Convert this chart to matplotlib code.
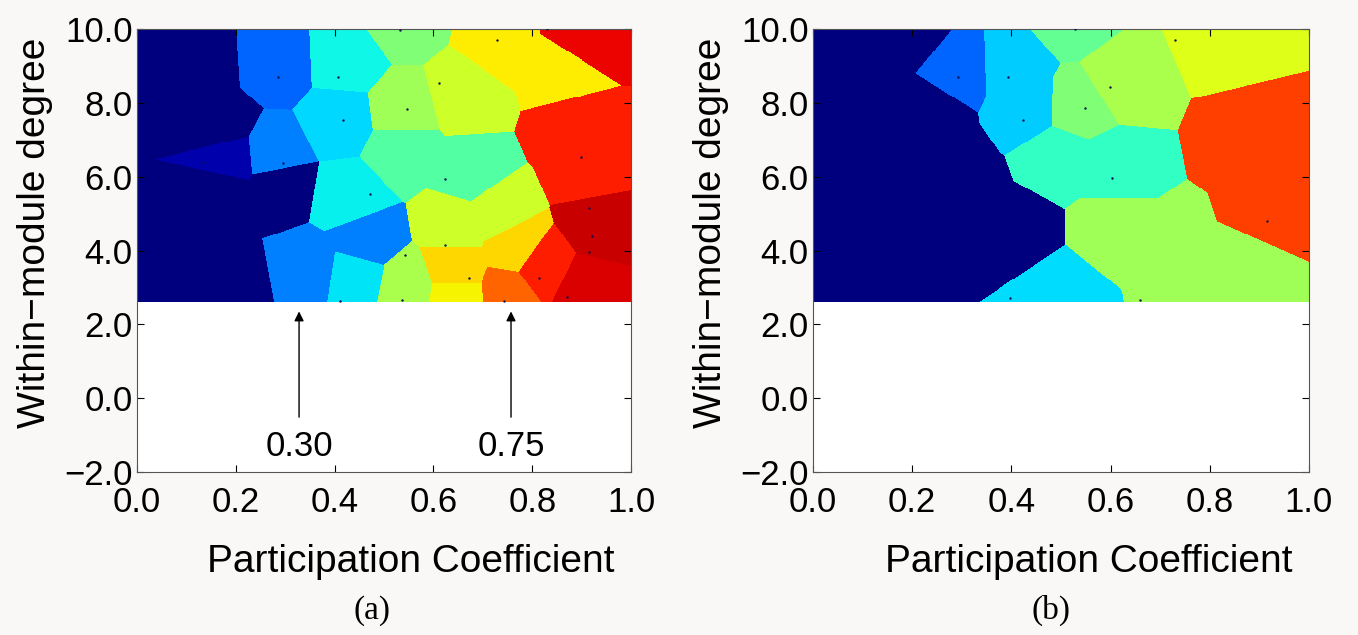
import numpy as np
import matplotlib
matplotlib.use("Agg")
import matplotlib.pyplot as plt

plt.rcParams['font.family'] = ['Liberation Sans', 'DejaVu Sans']

# (a) region seeds: participation coefficient, within-module degree, colour value
a_sx = [0.128, 0.168, 0.170, 0.285, 0.140, 0.188,
        0.184, 0.281, 0.273, 0.421, 0.536, 0.411, 0.664, 0.735, 0.856, 0.897,
        0.532, 0.532, 0.674, 0.887, 0.917, 0.431, 0.462, 0.345, 0.644, 0.725,
        0.937, 0.765, 0.644, 0.441, 0.543, 0.644, 0.751, 0.816, 0.907]
a_sy = [8.90, 7.35, 5.60, 5.75, 4.20, 3.06,
        6.48, 9.04, 6.59, 9.12, 10.26, 7.54, 8.22, 9.58, 8.90, 9.77,
        7.76, 6.73, 6.05, 7.27, 6.18, 5.42, 4.28, 3.45, 4.69, 5.04,
        4.69, 4.01, 3.46, 3.25, 2.98, 2.73, 2.87, 3.52, 2.92]
a_sv = [0.0, 0.0, 0.0, 0.0, 0.0, 0.0,
        0.042, 0.225, 0.25, 0.37, 0.505, 0.3375, 0.598, 0.66, 0.66, 0.905,
        0.545, 0.45, 0.45, 0.876, 0.876, 0.36, 0.25, 0.25, 0.598, 0.598,
        0.934, 0.683, 0.683, 0.35, 0.557, 0.65, 0.802, 0.876, 0.919]

# (a) node dots
a_dx = [0.285, 0.407, 0.532, 0.611, 0.729, 0.830, 0.547, 0.623, 0.899, 0.915,
        0.417, 0.296, 0.134, 0.472, 0.269, 0.411, 0.536, 0.543, 0.623, 0.672,
        0.814, 0.743, 0.870, 0.921, 0.915]
a_dy = [8.71, 8.71, 9.98, 8.55, 9.71, 9.99, 7.84, 5.94, 6.54, 5.15,
        7.54, 6.37, 6.40, 5.53, 2.65, 2.62, 2.65, 3.87, 4.14, 3.25,
        3.25, 2.62, 2.73, 4.39, 3.95]

# (b) region seeds
b_sx = [0.196, 0.236, 0.266, 0.306, 0.417, 0.175,
        0.286, 0.407, 0.427, 0.522, 0.538, 0.615, 0.841, 0.599, 0.498,
        0.891, 0.931, 0.720, 0.891, 0.599, 0.498]
b_sy = [9.85, 7.79, 6.45, 5.50, 4.50, 3.46,
        8.85, 8.90, 7.95, 10.26, 7.92, 8.57, 9.85, 6.24, 6.45,
        7.00, 4.82, 3.87, 3.60, 4.55, 2.87]
b_sv = [0.0, 0.0, 0.0, 0.0, 0.0, 0.0,
        0.225, 0.325, 0.325, 0.47, 0.505, 0.557, 0.62, 0.412, 0.412,
        0.843, 0.843, 0.545, 0.545, 0.545, 0.342]

# (b) node dots
b_dx = [0.292, 0.393, 0.423, 0.528, 0.730, 0.599, 0.548, 0.603, 0.915, 0.659,
        0.397]
b_dy = [8.71, 8.71, 7.54, 9.99, 9.71, 8.44, 7.87, 5.96, 4.80, 2.65,
        2.70]

xticks = [0.0, 0.2, 0.4, 0.6, 0.8, 1.0]
yticks = [-2.0, 0.0, 2.0, 4.0, 6.0, 8.0, 10.0]
ymin_img = 2.6

fig = plt.figure(figsize=(13.58, 6.35), dpi=100, facecolor='#faf8f7')
ax1 = fig.add_axes([0.1009, 0.2567, 0.3638, 0.6976])
ax2 = fig.add_axes([0.5987, 0.2567, 0.3652, 0.6976])


def draw_map(ax, sx, sy, sv, dx, dy):
    sx = np.array(sx); sy = np.array(sy); sv = np.array(sv)
    gx = np.linspace(0, 1, 500)
    gy = np.linspace(ymin_img, 10, 280)
    X, Y = np.meshgrid(gx, gy)
    # nearest seed, measured in screen units (x spans ~494 px, one y unit ~36.8 px)
    d = ((X[..., None] - sx) * 494) ** 2 + ((Y[..., None] - sy) * 36.8) ** 2
    Z = sv[np.argmin(d, axis=2)]
    ax.imshow(Z, origin='lower', extent=[0, 1, ymin_img, 10], aspect='auto',
              cmap='jet', vmin=0, vmax=1, interpolation='nearest')
    ax.scatter(dx, dy, s=3, color='#101050', zorder=3, linewidths=0)
    ax.set_xlim(0, 1)
    ax.set_ylim(-2, 10)
    ax.set_xticks(xticks)
    ax.set_yticks(yticks)
    ax.set_xticklabels(['%.1f' % t for t in xticks])
    ax.set_yticklabels([('%.1f' % t).replace('-', '\u2212') for t in yticks])
    ax.tick_params(direction='in', top=True, right=True, length=5, labelsize=25)
    ax.tick_params(axis='x', pad=10)
    ax.tick_params(axis='y', pad=3)
    ax.set_facecolor('white')
    for s in ax.spines.values():
        s.set_color('#555555')
    ax.set_xlabel('Participation Coefficient', fontsize=28, labelpad=18)
    ax.xaxis.label.set_x(0.555)
    ax.set_ylabel('Within\u2212module degree', fontsize=28, labelpad=8)
    ax.yaxis.label.set_y(0.54)


draw_map(ax1, a_sx, a_sy, a_sv, a_dx, a_dy)
draw_map(ax2, b_sx, b_sy, b_sv, b_dx, b_dy)

for xa, lab in [(0.328, '0.30'), (0.757, '0.75')]:
    ax1.annotate(lab, xy=(xa, 2.35), xytext=(xa, -1.3), fontsize=25,
                 ha='center', va='center',
                 arrowprops=dict(arrowstyle='-|>', color='black', lw=1,
                                 shrinkA=7, shrinkB=0, mutation_scale=14))

fig.text(0.274, 0.025, '(a)', fontsize=24, family='Liberation Serif', ha='center')
fig.text(0.774, 0.025, '(b)', fontsize=24, family='Liberation Serif', ha='center')

fig.savefig('out.png', dpi=100, facecolor=fig.get_facecolor())
